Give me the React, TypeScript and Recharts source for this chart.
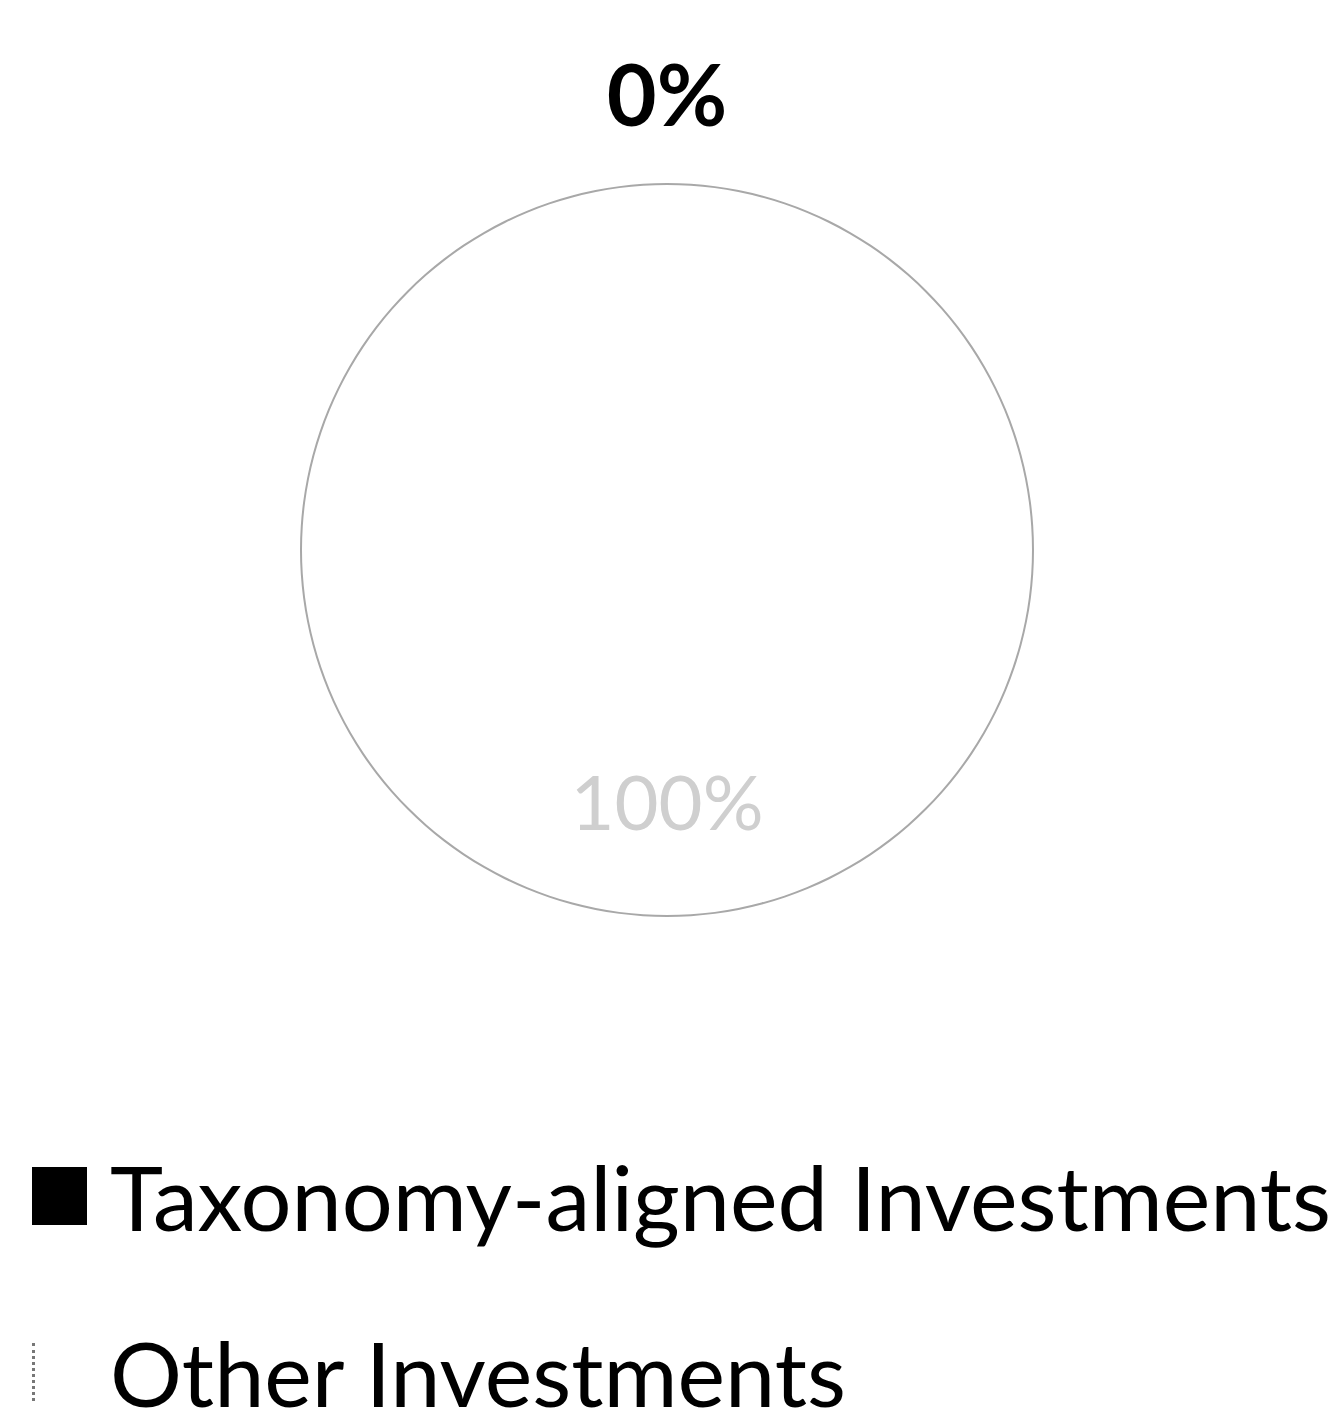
import { PieChart, Pie, Cell, Legend } from 'recharts'

const categories = ['Taxonomy-aligned Investments', 'Other Investments']
const shares = [0, 100]
const sliceColors = ['#000000', '#ffffff']

const data = categories.map((name, i) => ({ name, value: shares[i] }))
// single-slice ring used only for the faint outline of the pie
const outline = [{ name: 'outline', value: 100 }]

const RADIAN = Math.PI / 180

const renderLabel = (props: any) => {
  const { cx, cy, midAngle, outerRadius, value, index } = props
  const r = index === 0 ? outerRadius + 92 : outerRadius * 0.685
  const x = cx + r * Math.cos(-midAngle * RADIAN)
  const y = cy + r * Math.sin(-midAngle * RADIAN)
  return (
    <text
      x={x}
      y={y}
      textAnchor="middle"
      dominantBaseline="central"
      fill={index === 0 ? '#000' : '#cfcfcf'}
      fontSize={index === 0 ? 86 : 76}
      fontWeight={index === 0 ? 700 : 400}
      fontFamily="Lato, 'Open Sans', sans-serif"
    >
      {`${value}%`}
    </text>
  )
}

const LegendContent = () => (
  <div style={{ fontFamily: "Lato, 'Open Sans', sans-serif", fontSize: 90, color: '#000', lineHeight: 0.85 }}>
    {categories.map((name, i) => (
      <div key={name} style={{ display: 'flex', alignItems: 'center', height: 176 }}>
        <span
          style={{
            display: 'inline-block',
            width: 55,
            height: 58,
            marginRight: 23,
            background: sliceColors[i],
            borderLeft: i === 1 ? '3px dotted #777' : 'none',
            boxSizing: 'border-box',
            flex: 'none',
          }}
        />
        <span style={{ whiteSpace: 'nowrap' }}>{name}</span>
      </div>
    ))}
  </div>
)

export default function App() {
  return (
    <div style={{ position: 'absolute', left: 0, top: 0, width: 1341, height: 1411, background: '#fff', overflow: 'hidden' }}>
      <PieChart width={1341} height={1411}>
        <Pie
          data={data}
          dataKey="value"
          nameKey="name"
          cx={662}
          cy={545}
          outerRadius={366}
          startAngle={90}
          endAngle={-270}
          label={renderLabel}
          labelLine={false}
          stroke="none"
          isAnimationActive={false}
        >
          {data.map((d, i) => (
            <Cell key={d.name} fill={sliceColors[i]} stroke="none" />
          ))}
        </Pie>
        <Pie
          data={outline}
          dataKey="value"
          cx={662}
          cy={545}
          innerRadius={365}
          outerRadius={367}
          startAngle={90}
          endAngle={-270}
          fill="#a8a8a8"
          stroke="none"
          legendType="none"
          isAnimationActive={false}
        />
        <Legend
          content={LegendContent}
          wrapperStyle={{ position: 'absolute', left: 32, top: 1108, width: 1309 }}
        />
      </PieChart>
    </div>
  )
}
